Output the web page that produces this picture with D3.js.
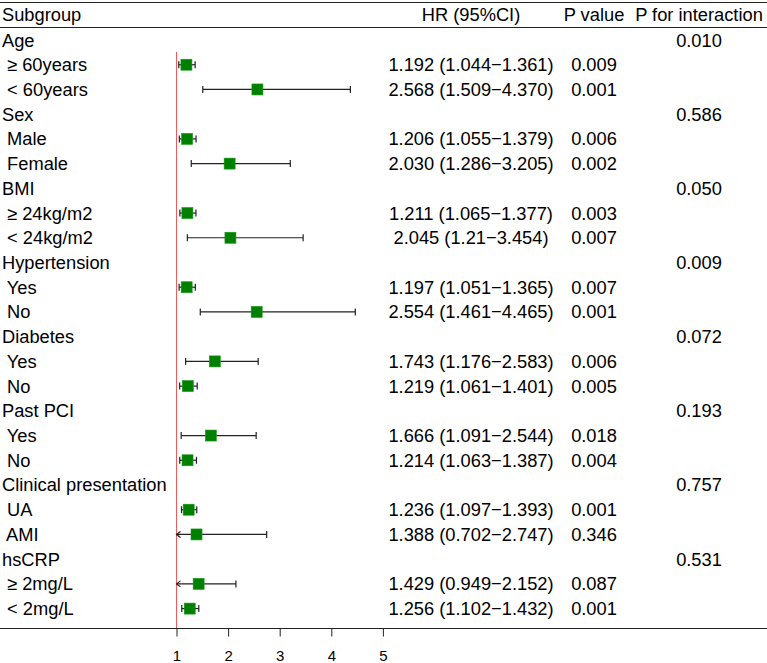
<!DOCTYPE html>
<html>
<head>
<meta charset="utf-8">
<script src="https://cdn.jsdelivr.net/npm/d3@7"></script>
<style>
  body { margin: 0; background: #fff; }
  svg { display: block; font-family: "Liberation Sans", Arial, sans-serif; }
</style>
</head>
<body>
<svg width="767" height="663"></svg>
<script>
// Row labels (leading space marks a sub-row).
const subgroups = ["Age", " \u2265 60years", " < 60years", "Sex", " Male", " Female",
  "BMI", " \u2265 24kg/m2", " < 24kg/m2", "Hypertension", " Yes", " No",
  "Diabetes", " Yes", " No", "Past PCI", " Yes", " No",
  "Clinical presentation", " UA", " AMI", "hsCRP", " \u2265 2mg/L", " < 2mg/L"];

// Hazard ratios and 95% CI bounds (null for group header rows).
const hr    = [null, 1.192, 2.568, null, 1.206, 2.030, null, 1.211, 2.045, null, 1.197, 2.554,
               null, 1.743, 1.219, null, 1.666, 1.214, null, 1.236, 1.388, null, 1.429, 1.256];
const lower = [null, 1.044, 1.509, null, 1.055, 1.286, null, 1.065, 1.21, null, 1.051, 1.461,
               null, 1.176, 1.061, null, 1.091, 1.063, null, 1.097, 0.702, null, 0.949, 1.102];
const upper = [null, 1.361, 4.370, null, 1.379, 3.205, null, 1.377, 3.454, null, 1.365, 4.465,
               null, 2.583, 1.401, null, 2.544, 1.387, null, 1.393, 2.747, null, 2.152, 1.432];

const hrText = ["", "1.192 (1.044\u22121.361)", "2.568 (1.509\u22124.370)", "",
  "1.206 (1.055\u22121.379)", "2.030 (1.286\u22123.205)", "",
  "1.211 (1.065\u22121.377)", "2.045 (1.21\u22123.454)", "",
  "1.197 (1.051\u22121.365)", "2.554 (1.461\u22124.465)", "",
  "1.743 (1.176\u22122.583)", "1.219 (1.061\u22121.401)", "",
  "1.666 (1.091\u22122.544)", "1.214 (1.063\u22121.387)", "",
  "1.236 (1.097\u22121.393)", "1.388 (0.702\u22122.747)", "",
  "1.429 (0.949\u22122.152)", "1.256 (1.102\u22121.432)"];
const pValue = ["", "0.009", "0.001", "", "0.006", "0.002", "", "0.003", "0.007", "", "0.007", "0.001",
                "", "0.006", "0.005", "", "0.018", "0.004", "", "0.001", "0.346", "", "0.087", "0.001"];
const pInteraction = ["0.010", "", "", "0.586", "", "", "0.050", "", "", "0.009", "", "",
                      "0.072", "", "", "0.193", "", "", "0.757", "", "", "0.531", "", ""];

const headers = ["Subgroup", "HR (95%CI)", "P value", "P for interaction"];
const xTicks = [1, 2, 3, 4, 5];

const svg = d3.select("svg");
const width = 767;

// Scales
const x = d3.scaleLinear().domain([1, 5]).range([176.5, 382.9]);
const y = d3.scaleLinear().domain([0, subgroups.length - 1]).range([40, 608.6]);
const axisY = 628.5;
const fontSize = 18.3;

// Column anchors
const colHR = 471, colP = 594, colPI = 699;

// Table rules
svg.append("line").attr("x1", 0).attr("x2", width).attr("y1", 2.5).attr("y2", 2.5)
  .attr("stroke", "#222").attr("stroke-width", 1);
svg.append("line").attr("x1", 0).attr("x2", width).attr("y1", 27.5).attr("y2", 27.5)
  .attr("stroke", "#222").attr("stroke-width", 1);

// Header
const headerY = 21;
svg.append("text").attr("x", 2).attr("y", headerY).attr("font-size", fontSize).text(headers[0]);
svg.append("text").attr("x", colHR).attr("y", headerY).attr("text-anchor", "middle").attr("font-size", fontSize).text(headers[1]);
svg.append("text").attr("x", colP).attr("y", headerY).attr("text-anchor", "middle").attr("font-size", fontSize).text(headers[2]);
svg.append("text").attr("x", colPI).attr("y", headerY).attr("text-anchor", "middle").attr("font-size", fontSize).text(headers[3]);

// Reference line at HR = 1
svg.append("line")
  .attr("x1", x(1)).attr("x2", x(1))
  .attr("y1", 52).attr("y2", axisY)
  .attr("stroke", "#f05a5a").attr("stroke-width", 1);

const rows = subgroups.map((s, i) => ({
  i, label: s, hr: hr[i], lo: lower[i], hi: upper[i],
  hrText: hrText[i], p: pValue[i], pi: pInteraction[i]
}));

const g = svg.append("g").attr("font-size", fontSize).attr("fill", "#000");
const rowG = g.selectAll("g.row").data(rows).enter().append("g").attr("class", "row");

rowG.append("text").attr("x", 2).attr("y", d => y(d.i) + 6.5)
  .attr("xml:space", "preserve").style("white-space", "pre")
  .text(d => d.label);
rowG.append("text").attr("x", colHR).attr("y", d => y(d.i) + 6.5)
  .attr("text-anchor", "middle").text(d => d.hrText);
rowG.append("text").attr("x", colP).attr("y", d => y(d.i) + 6.5)
  .attr("text-anchor", "middle").text(d => d.p);
rowG.append("text").attr("x", colPI).attr("y", d => y(d.i) + 6.5)
  .attr("text-anchor", "middle").text(d => d.pi);

// CI whiskers and points
const [xmin, xmax] = x.domain();
const est = rows.filter(d => d.hr !== null);
const ci = svg.append("g").attr("stroke", "#222").attr("stroke-width", 1.2).attr("fill", "none");

est.forEach(d => {
  const cy = y(d.i);
  const lo = Math.max(d.lo, xmin), hi = Math.min(d.hi, xmax);
  ci.append("line").attr("x1", x(lo)).attr("x2", x(hi)).attr("y1", cy).attr("y2", cy);
  if (d.lo < xmin) {
    ci.append("polyline")
      .attr("points", `${x(lo) + 4},${cy - 3} ${x(lo)},${cy} ${x(lo) + 4},${cy + 3}`);
  } else {
    ci.append("line").attr("x1", x(lo)).attr("x2", x(lo)).attr("y1", cy - 3.5).attr("y2", cy + 3.5);
  }
  if (d.hi > xmax) {
    ci.append("polyline")
      .attr("points", `${x(hi) - 4},${cy - 3} ${x(hi)},${cy} ${x(hi) - 4},${cy + 3}`);
  } else {
    ci.append("line").attr("x1", x(hi)).attr("x2", x(hi)).attr("y1", cy - 3.5).attr("y2", cy + 3.5);
  }
});

const sq = 11;
svg.append("g").selectAll("rect").data(est).enter().append("rect")
  .attr("x", d => x(d.hr) - sq / 2)
  .attr("y", d => y(d.i) - sq / 2)
  .attr("width", sq).attr("height", sq)
  .attr("fill", "#008000")
  .attr("stroke", "#1a9a1a").attr("stroke-width", 0.6);

// Bottom rule and axis
svg.append("line").attr("x1", 0).attr("x2", width).attr("y1", axisY).attr("y2", axisY)
  .attr("stroke", "#222").attr("stroke-width", 1);

const axis = svg.append("g")
  .attr("transform", `translate(0,${axisY})`)
  .call(d3.axisBottom(x).tickValues(xTicks).tickFormat(d3.format("d")).tickSize(8).tickPadding(14));
axis.select(".domain").remove();
axis.selectAll(".tick line").attr("stroke", "#222");
axis.selectAll(".tick text").attr("font-size", 15).attr("font-family", "Liberation Sans, Arial, sans-serif").attr("fill", "#000");
</script>
</body>
</html>
